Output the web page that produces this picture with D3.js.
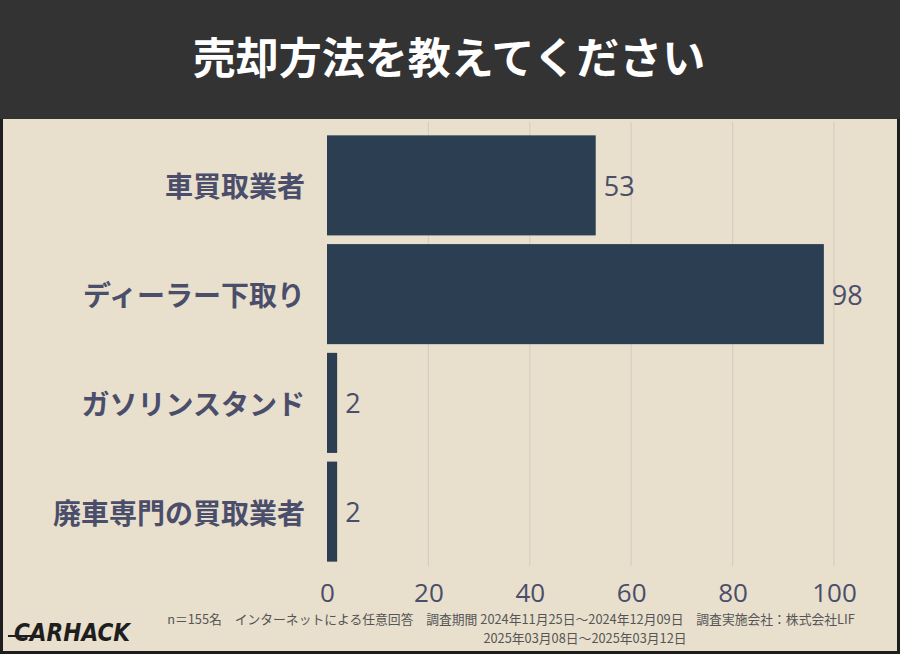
<!DOCTYPE html><html><head><meta charset="utf-8"><script src="https://cdn.jsdelivr.net/npm/d3@7"></script>
<style>body{margin:0}svg{display:block}</style></head><body><svg id="c" width="900" height="654"></svg>
<script>
const title = "売却方法を教えてください";
const categories = ["車買取業者","ディーラー下取り","ガソリンスタンド","廃車専門の買取業者"];
const values = [53,98,2,2];
const ticks = [0,20,40,60,80,100];
const footer1 = "n＝155名　インターネットによる任意回答　調査期間 2024年11月25日〜2024年12月09日　調査実施会社：株式会社LIF";
const footer2 = "2025年03月08日〜2025年03月12日";
const svg = d3.select("#c");
const F = "'Noto Sans CJK JP', sans-serif";
svg.append("rect").attr("width",900).attr("height",654).attr("fill","#1e1e1e");
svg.append("rect").attr("x",3).attr("y",0).attr("width",894).attr("height",651).attr("fill","#e8dfcd");
svg.append("rect").attr("width",900).attr("height",119).attr("fill","#333333");
svg.append("text").attr("x",449).attr("y",62).attr("text-anchor","middle").attr("dominant-baseline","middle")
 .attr("fill","#fff").attr("font-family",F).attr("font-weight",700).attr("font-size",43).text(title);
const x = d3.scaleLinear().domain([0,100]).range([327,834]);
const y = d3.scaleBand().domain(categories).range([131,566]).paddingInner(0.08).paddingOuter(0.04);
const g = svg.append("g");
g.selectAll(".grid").data(ticks.slice(1)).join("line").attr("x1",d=>x(d)).attr("x2",d=>x(d))
 .attr("y1",122).attr("y2",566).attr("stroke","#d6cebf").attr("stroke-width",1.2);
g.selectAll(".bar").data(values).join("rect").attr("x",x(0)).attr("y",(d,i)=>y(categories[i]))
 .attr("width",d=>x(d)-x(0)).attr("height",y.bandwidth()).attr("fill","#2c3e52");
g.selectAll(".val").data(values).join("text").attr("x",d=>x(d)+8).attr("y",(d,i)=>y(categories[i])+y.bandwidth()/2)
 .attr("dominant-baseline","central").attr("fill","#4a4e6a").attr("font-family","'Open Sans',sans-serif").attr("font-size",27).text(d=>d);
g.selectAll(".cat").data(categories).join("text").attr("x",305).attr("y",d=>y(d)+y.bandwidth()/2)
 .attr("text-anchor","end").attr("dominant-baseline","central").attr("fill","#4a4e6a").attr("font-family",F)
 .attr("font-weight",700).attr("font-size",28).text(d=>d);
const ax = svg.append("g").attr("transform","translate(0,584)").call(d3.axisBottom(x).tickValues(ticks).tickSize(0).tickPadding(0));
ax.select(".domain").remove();
ax.selectAll("text").attr("fill","#4a4e6a").attr("font-family","'Open Sans',sans-serif").attr("font-size",26);
svg.append("text").attr("x",511).attr("y",624).attr("text-anchor","middle").attr("fill","#555").attr("font-family",F).attr("font-size",12.8).text(footer1);
svg.append("text").attr("x",585).attr("y",643).attr("text-anchor","middle").attr("fill","#555").attr("font-family",F).attr("font-size",12.8).text(footer2);
svg.append("text").attr("x",14).attr("y",641).attr("fill","#1e1e1e").attr("font-family","'DejaVu Sans Condensed',sans-serif")
 .attr("font-weight",700).attr("font-style","italic").attr("font-size",24).attr("textLength",116).text("CARHACK");
svg.append("line").attr("x1",8).attr("x2",40).attr("y1",636).attr("y2",636).attr("stroke","#1e1e1e").attr("stroke-width",2);
</script></body></html>
